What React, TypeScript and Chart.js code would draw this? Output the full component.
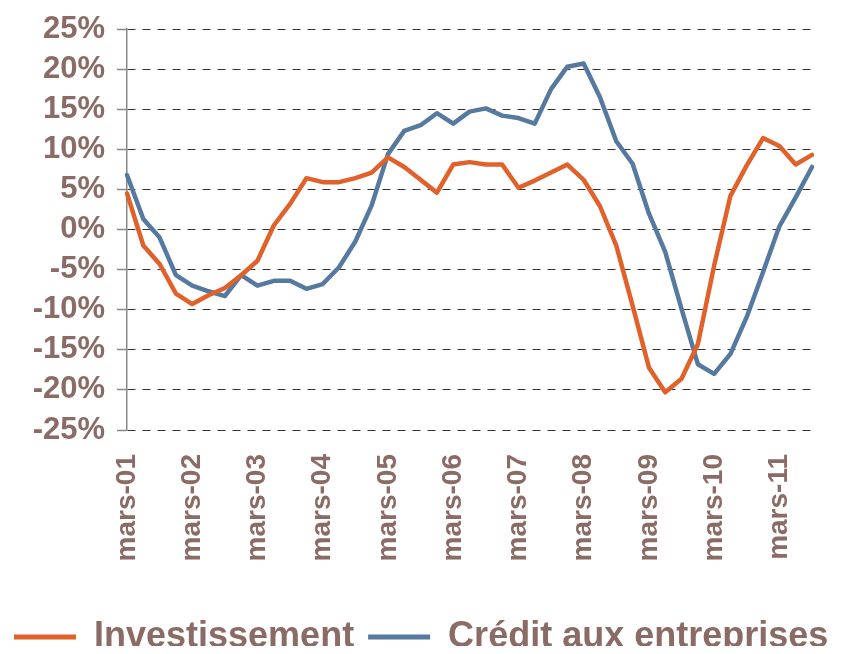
import React, { useEffect, useRef } from 'react';
import { Chart, registerables } from 'chart.js';

Chart.register(...registerables);

const quarters: string[] = [
  'mars-01', 'juin-01', 'sept-01', 'déc-01',
  'mars-02', 'juin-02', 'sept-02', 'déc-02',
  'mars-03', 'juin-03', 'sept-03', 'déc-03',
  'mars-04', 'juin-04', 'sept-04', 'déc-04',
  'mars-05', 'juin-05', 'sept-05', 'déc-05',
  'mars-06', 'juin-06', 'sept-06', 'déc-06',
  'mars-07', 'juin-07', 'sept-07', 'déc-07',
  'mars-08', 'juin-08', 'sept-08', 'déc-08',
  'mars-09', 'juin-09', 'sept-09', 'déc-09',
  'mars-10', 'juin-10', 'sept-10', 'déc-10',
  'mars-11', 'juin-11', 'sept-11',
];

const investissement: number[] = [
  4.5, -2.0, -4.3, -8.0, -9.3, -8.2, -7.3, -5.7, -3.9, 0.5, 3.2, 6.4, 5.9, 5.9, 6.4,
  7.1, 9.0, 7.8, 6.2, 4.6, 8.1, 8.4, 8.1, 8.1, 5.2, 6.1, 7.1, 8.1, 6.2, 2.9,
  -2.0, -9.5, -17.2, -20.3, -18.6, -14.3, -4.5, 4.2, 8.0, 11.4, 10.4, 8.1, 9.3,
];

const creditEntreprises: number[] = [
  6.8, 1.3, -1.0, -5.7, -7.0, -7.7, -8.3, -5.7, -7.0, -6.4, -6.4, -7.4, -6.8, -4.7, -1.5,
  3.0, 9.4, 12.3, 13.0, 14.5, 13.2, 14.7, 15.1, 14.2, 13.9, 13.2, 17.5, 20.3, 20.7, 16.5,
  11.0, 8.2, 2.0, -2.8, -9.9, -16.8, -18.0, -15.5, -10.9, -5.3, 0.4, 4.0, 7.8,
];

const seriesNames: string[] = ['Investissement', 'Crédit aux entreprises'];
const seriesColors: string[] = ['#E0612A', '#55799F'];
const TEXT = '#8B6B65';
const FONT = "'Liberation Sans', Arial, sans-serif";

export default function App() {
  const ref = useRef<HTMLCanvasElement>(null);

  useEffect(() => {
    if (!ref.current) return;
    const chart = new Chart(ref.current, {
      type: 'line',
      data: {
        labels: quarters,
        datasets: [
          {
            label: seriesNames[0],
            data: investissement,
            borderColor: seriesColors[0],
            backgroundColor: seriesColors[0],
            borderWidth: 4.5,
            pointRadius: 0,
            tension: 0,
            borderJoinStyle: 'round',
            borderCapStyle: 'round',
          },
          {
            label: seriesNames[1],
            data: creditEntreprises,
            borderColor: seriesColors[1],
            backgroundColor: seriesColors[1],
            borderWidth: 4.5,
            pointRadius: 0,
            tension: 0,
            borderJoinStyle: 'round',
            borderCapStyle: 'round',
          },
        ],
      },
      options: {
        responsive: false,
        animation: false,
        layout: { padding: { left: 0, right: 0, top: 21, bottom: -11 } },
        scales: {
          x: {
            type: 'category',
            offset: false,
            grid: { display: false, drawTicks: false },
            border: { display: false },
            ticks: {
              autoSkip: false,
              minRotation: 90,
              maxRotation: 90,
              padding: 24,
              color: TEXT,
              font: { family: FONT, size: 28, weight: 'bold' },
              callback: function (this: any, value: any, index: number) {
                return index % 4 === 0 ? this.getLabelForValue(value) : '';
              },
            },
            afterFit: (scale: any) => {
              scale.height = 175;
              scale.paddingLeft = 0;
              scale.paddingRight = 48;
            },
          },
          y: {
            min: -25,
            max: 25,
            grid: {
              color: '#333333',
              lineWidth: 1,
              drawTicks: true,
              tickLength: 10,
              tickColor: '#888888',
              tickWidth: 1.5,
            },
            border: { display: true, color: '#888888', width: 1.5, dash: [8, 7] },
            ticks: {
              stepSize: 5,
              autoSkip: false,
              padding: 12,
              color: TEXT,
              font: { family: FONT, size: 31, weight: 'bold' },
              callback: (v: any) => `${v}%`,
            },
            afterFit: (scale: any) => {
              scale.width = 127;
              scale.paddingTop = 0;
              scale.paddingBottom = 0;
            },
          },
        },
        plugins: {
          tooltip: { enabled: false },
          legend: {
            display: true,
            position: 'bottom',
            align: 'start',
            labels: {
              color: TEXT,
              font: { family: FONT, size: 36, weight: 'bold' },
              boxWidth: 62,
              boxHeight: 5,
              padding: 14,
              generateLabels: (c: any) =>
                c.data.datasets.map((ds: any, i: number) => ({
                  text: ds.label,
                  fillStyle: ds.borderColor,
                  strokeStyle: ds.borderColor,
                  lineWidth: 0,
                  hidden: false,
                  datasetIndex: i,
                  fontColor: TEXT,
                })),
            },
          },
        },
      },
    });
    return () => chart.destroy();
  }, []);

  return (
    <div style={{ width: 860, height: 646, marginLeft: -8, marginBottom: -8 }}>
      <canvas ref={ref} width={860} height={646} style={{ display: 'block' }} />
    </div>
  );
}
